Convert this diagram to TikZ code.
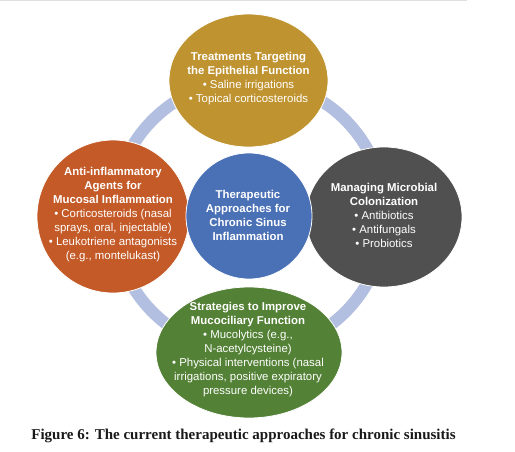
\documentclass[tikz,border=0pt]{standalone}
\usepackage{fontspec}
\setmainfont{Liberation Sans}
\newfontfamily\capfont{Liberation Serif}
\usepackage{tikz}
\usetikzlibrary{shapes.geometric}

\definecolor{epigold}{HTML}{BF9330}
\definecolor{antiorange}{HTML}{C45A27}
\definecolor{corebl}{HTML}{4A70B5}
\definecolor{microgray}{HTML}{505050}
\definecolor{mucogreen}{HTML}{538135}
\definecolor{ringbl}{HTML}{B3BFE0}
\newcommand{\hd}[1]{\textbf{#1}}

\begin{document}
\begin{tikzpicture}[x=1pt, y=-1pt,
    bubble/.style={ellipse, draw=white, line width=0.8pt, inner sep=0pt},
    txt/.style={align=center, text=white, inner sep=0pt, font=\fontsize{11.4}{14}\selectfont},
    ring/.style={draw=ringbl, line width=12pt}]
  \useasboundingbox (0,0) rectangle (515,451);
  \draw[black!12, line width=0.8pt] (0,0.5) -- (467,0.5);
  \coordinate (hub) at (249,216);
  \draw[ring] (hub) circle (136pt);

  \node[bubble, fill=epigold, minimum width=159pt, minimum height=133pt] (epi) at (248.5,80.5) {};
  \node[bubble, fill=antiorange, minimum width=152pt, minimum height=153pt] (anti) at (113,216.5) {};
  \node[bubble, fill=microgray, minimum width=156pt, minimum height=140pt] (micro) at (384,217) {};
  \node[bubble, fill=mucogreen, minimum width=186pt, minimum height=131pt] (muco) at (249,352.5) {};
  \node[bubble, fill=corebl, minimum width=126pt, minimum height=126pt] (core) at (hub) {};

  \node[txt] (epi-t) at (248.5,79) {\hd{Treatments Targeting}\\ \hd{the Epithelial Function}\\ • Saline irrigations\\ • Topical corticosteroids};
  \node[txt] (anti-t) at (113,215) {\hd{Anti-inflammatory}\\ \hd{Agents for}\\ \hd{Mucosal Inflammation}\\ • Corticosteroids (nasal\\ sprays, oral, injectable)\\ • Leukotriene antagonists\\ (e.g., montelukast)};
  \node[txt] (core-t) at (248,215) {\hd{Therapeutic}\\ \hd{Approaches for}\\ \hd{Chronic Sinus}\\ \hd{Inflammation}};
  \node[txt] (micro-t) at (384,215) {\hd{Managing Microbial}\\ \hd{Colonization}\\ • Antibiotics\\ • Antifungals\\ • Probiotics};
  \node[txt] (muco-t) at (248,350) {\hd{Strategies to Improve}\\ \hd{Mucociliary Function}\\ • Mucolytics (e.g.,\\ N-acetylcysteine)\\ • Physical interventions (nasal\\ irrigations, positive expiratory\\ pressure devices)};

  \node[anchor=base, inner sep=0pt, text=black!90, font=\capfont\bfseries\fontsize{15}{18}\selectfont] (caption) at (243.5,439) {Figure 6: The current therapeutic approaches for chronic sinusitis};
\end{tikzpicture}
\end{document}
